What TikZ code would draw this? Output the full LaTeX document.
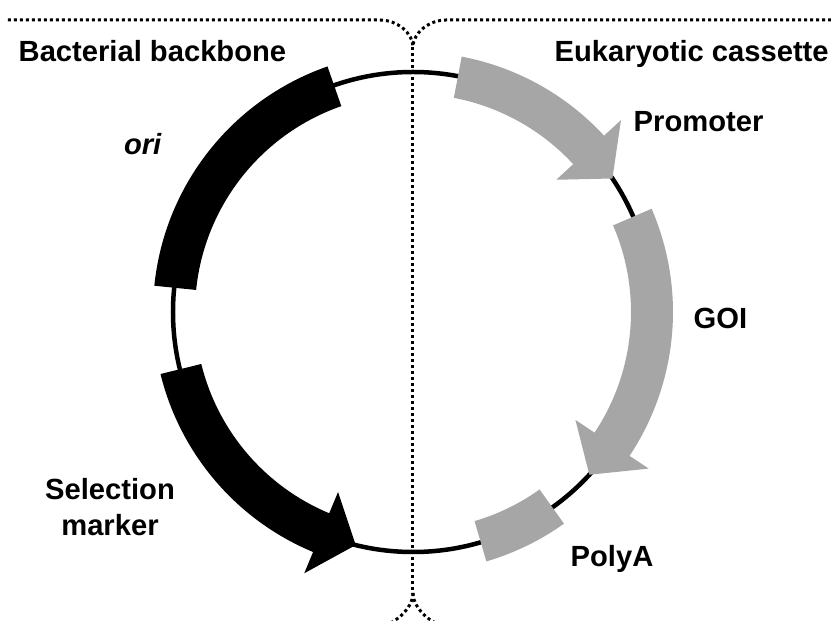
\documentclass[tikz,border=0pt]{standalone}
\usepackage{fontspec}
\setmainfont{Liberation Sans}
\definecolor{cassgray}{HTML}{A6A6A6}
\newcommand{\bandin}{2.18}
\newcommand{\bandout}{2.60}
\newcommand{\headin}{1.95}
\newcommand{\headout}{2.83}
\newcommand{\bandbox}[3]{\fill[#1] (#2:\bandin) arc[start angle=#2,end angle=#3,radius=\bandin] -- (#3:\bandout) arc[start angle=#3,end angle=#2,radius=\bandout] -- cycle;}
\newcommand{\bandarrow}[4]{\fill[#1] (#2:\bandin) arc[start angle=#2,end angle=#3,radius=\bandin] -- (#3:\headin) -- (#4:2.4) -- (#3:\headout) -- (#3:\bandout) arc[start angle=#3,end angle=#2,radius=\bandout] -- cycle;}

\begin{document}
\begin{tikzpicture}[lab/.style={font=\fontsize{8.3}{10.25}\selectfont\bfseries, inner sep=0pt},
  divider/.style={line width=0.03cm, dash pattern=on 0.03cm off 0.03cm}]
\useasboundingbox (-4.13,-3.09) rectangle (4.18,3.12);
\clip (-4.13,-3.09) rectangle (4.18,3.12);
\draw[line width=0.045cm] (0,0) circle[radius=2.4];
\bandbox{black}{109.2}{174.2}
\bandarrow{black}{193.8}{247.4}{256.2}
\bandarrow{cassgray}{79.2}{42.7}{33.8}
\bandarrow{cassgray}{23.4}{-33.6}{-42.7}
\bandbox{cassgray}{-73.6}{-54.5}
\coordinate (split top) at (0,2.65);
\coordinate (split bottom) at (0,-2.81);
\draw[divider] (-4.05,2.92) -- (-0.33,2.92) .. controls (-0.16,2.92) and (0,2.79) .. (split top);
\draw[divider] (4.30,2.92) -- (0.33,2.92) .. controls (0.16,2.92) and (0,2.79) .. (split top);
\draw[divider] (split top) -- (split bottom);
\draw[divider] (split bottom) .. controls (0,-2.97) and (-0.2,-3.15) .. (-0.4,-3.16) -- (-4.05,-3.16);
\draw[divider] (split bottom) .. controls (0,-2.97) and (0.2,-3.15) .. (0.4,-3.16) -- (4.30,-3.16);
\node[lab, anchor=base west] (backbone) at (-3.95,2.50) {Bacterial backbone};
\node[lab, anchor=base west] (cassette) at (1.41,2.50) {Eukaryotic cassette};
\node[lab, anchor=base east] (ori) at (-2.51,1.57) {\itshape ori};
\node[lab, anchor=north, align=center] (marker) at (-3.03,-1.66) {Selection\\marker};
\node[lab, anchor=base west] (promoter) at (2.20,1.80) {Promoter};
\node[lab, anchor=base west] (goi) at (2.80,-0.17) {GOI};
\node[lab, anchor=base west] (polya) at (1.57,-2.55) {PolyA};
\end{tikzpicture}
\end{document}
